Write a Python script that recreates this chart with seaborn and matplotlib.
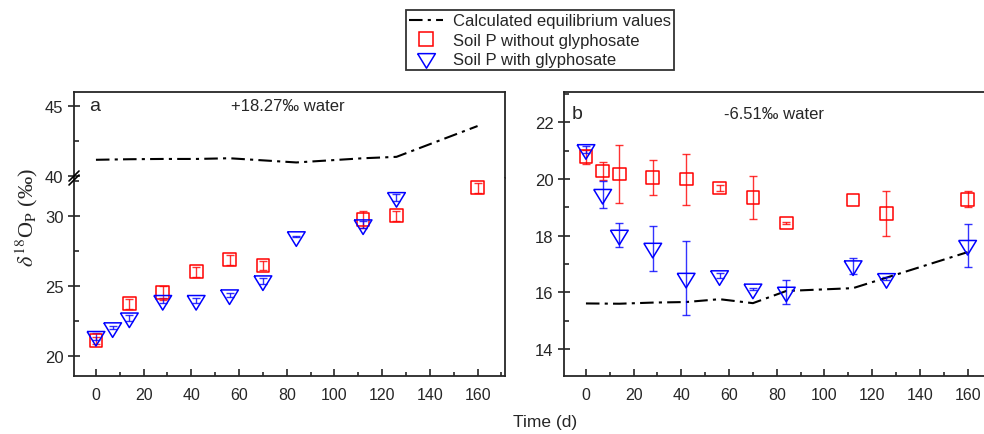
import matplotlib
matplotlib.use("Agg")
import matplotlib.pyplot as plt
from matplotlib.lines import Line2D
from matplotlib.ticker import MultipleLocator
import seaborn as sns
import numpy as np

# sampling days
days_calc = [0, 14, 28, 42, 56, 70, 84, 112, 126, 160]
days_a_red = [0, 14, 28, 42, 56, 70, 112, 126, 160]
days_a_blue = [0, 7, 14, 28, 42, 56, 70, 84, 112, 126]
days_b = [0, 7, 14, 28, 42, 56, 70, 84, 112, 126, 160]

# panel a: +18.27 permil water
a_calc = [41.14, 41.18, 41.2, 41.2, 41.25, 41.1, 40.95, 41.25, 41.35, 43.55]
a_red = [21.1, 23.7, 24.5, 26.0, 26.85, 26.45, 29.75, 30.0, 32.0]
a_red_err = [0.25, 0.35, 0.5, 0.35, 0.35, 0.3, 0.6, 0.35, 0.35]
a_blue = [21.38, 22.0, 22.7, 23.95, 23.95, 24.35, 25.35, 28.5, 29.35, 31.3]
a_blue_err = [0.25, 0.1, 0.2, 0.2, 0.2, 0.15, 0.2, 0.05, 0.25, 0.25]

# panel b: -6.51 permil water
b_calc = [15.61, 15.6, 15.64, 15.66, 15.76, 15.62, 16.05, 16.15, 16.52, 17.42]
b_red = [20.79, 20.28, 20.18, 20.06, 20.0, 19.68, 19.35, 18.45, 19.26, 18.78, 19.28]
b_red_err = [0.25, 0.33, 1.03, 0.62, 0.9, 0.1, 0.75, 0.05, np.nan, 0.8, 0.28]
b_blue = [21.04, 19.46, 18.02, 17.56, 16.5, 16.59, 16.12, 16.01, 16.94, 16.49, 17.66]
b_blue_err = [0.12, 0.48, 0.42, 0.79, 1.3, 0.08, 0.05, 0.42, 0.28, 0.05, 0.77]

labels = ["Calculated equilibrium values", "Soil P without glyphosate", "Soil P with glyphosate"]

sns.set_style("ticks")
plt.rcParams["font.family"] = ["Liberation Sans", "DejaVu Sans"]
plt.rcParams["mathtext.fontset"] = "stix"

RED = "#ff0000"
BLUE = "#0000ff"
DASH = (0, (6.5, 2.5, 1.5, 2.5))
# down triangle with its centroid on the data point
TRI = [(-1, 0.547), (1, 0.547), (0, -1.093), (-1, 0.547)]

W, H = 984, 435
fig = plt.figure(figsize=(W / 100, H / 100), dpi=100)

def box(l, t, r, b):
    return [l / W, 1 - b / H, (r - l) / W, (b - t) / H]

ax_at = fig.add_axes(box(74, 93, 505, 179))
ax_ab = fig.add_axes(box(74, 179, 505, 377))
ax_b = fig.add_axes(box(564, 93, 995, 377))


def points(ax, x, y, err, color, marker, s):
    ax.errorbar(x, y, yerr=err, fmt="none", ecolor=color, elinewidth=1,
                capsize=2.8, capthick=1, alpha=0.8, zorder=2)
    sns.scatterplot(x=x, y=y, ax=ax, marker=marker, s=s, color=color,
                    facecolor="none", edgecolor=color, linewidth=1.1,
                    legend=False, zorder=3)


def calc_line(ax, x, y):
    sns.lineplot(x=x, y=y, ax=ax, color="black", linewidth=1.5,
                 linestyle=DASH, legend=False, errorbar=None)


# panel a
calc_line(ax_at, days_calc, a_calc)
points(ax_ab, days_a_red, a_red, a_red_err, RED, "s", 85)
points(ax_ab, days_a_blue, a_blue, a_blue_err, BLUE, TRI, 195)

# panel b
calc_line(ax_b, days_calc, b_calc)
points(ax_b, days_b, b_red, b_red_err, RED, "s", 85)
points(ax_b, days_b, b_blue, b_blue_err, BLUE, TRI, 195)

for ax in (ax_at, ax_ab, ax_b):
    ax.set_xlim(-9.2, 171.5)
    ax.xaxis.set_major_locator(MultipleLocator(20))
    ax.xaxis.set_minor_locator(MultipleLocator(10))
    ax.set_xlabel("")
    ax.set_ylabel("")
    for sp in ax.spines.values():
        sp.set_linewidth(1.3)
        sp.set_visible(True)
    ax.tick_params(axis="y", which="major", direction="inout", length=8,
                   width=1.2, labelsize=12)
    ax.tick_params(axis="y", which="minor", direction="in", length=3.5, width=1.2)
    ax.tick_params(axis="x", which="major", direction="in", length=5, width=1.2,
                   pad=8, labelsize=11.5)
    ax.tick_params(axis="x", which="minor", direction="in", length=3, width=1.2)

ax_at.set_ylim(39.84, 45.98)
ax_at.yaxis.set_major_locator(MultipleLocator(5))
ax_at.yaxis.set_minor_locator(MultipleLocator(2.5))
ax_at.spines["bottom"].set_visible(False)
ax_at.tick_params(axis="x", which="both", bottom=False, labelbottom=False)

ax_ab.set_ylim(18.55, 32.69)
ax_ab.yaxis.set_major_locator(MultipleLocator(5))
ax_ab.yaxis.set_minor_locator(MultipleLocator(2.5))
ax_ab.spines["top"].set_visible(False)

ax_b.set_ylim(13.05, 23.07)
ax_b.yaxis.set_major_locator(MultipleLocator(2))
ax_b.yaxis.set_minor_locator(MultipleLocator(1))

# axis break marks on the left spine of panel a
for dy in (0, 4):
    fig.add_artist(Line2D([69 / W, 79 / W], [1 - (186 - dy) / H, 1 - (176 - dy) / H],
                          color="black", lw=1.2))

ax_at.text(0.049, 0.84, "a", transform=ax_at.transAxes, fontsize=14,
           ha="center", va="center")
ax_at.text(0.497, 0.84, "+18.27‰ water", transform=ax_at.transAxes,
           fontsize=12, ha="center", va="center")
ax_b.text(0.03, 0.925, "b", transform=ax_b.transAxes, fontsize=14,
          ha="center", va="center")
ax_b.text(0.487, 0.925, "-6.51‰ water", transform=ax_b.transAxes,
          fontsize=12, ha="center", va="center")

fig.text(27 / W, 1 - 217 / H, r"$\delta^{18}$O$_\mathrm{P}$ (‰)", rotation=90,
         ha="center", va="center", fontsize=16, family=["Liberation Serif", "DejaVu Serif"])
fig.text(545 / W, 1 - 423 / H, "Time (d)", ha="center", va="center", fontsize=12.5)

handles = [
    Line2D([], [], color="black", lw=1.5, linestyle=DASH),
    Line2D([], [], marker="s", ls="none", mfc="none", mec=RED, ms=9.5, mew=1.1),
    Line2D([], [], marker=TRI, ls="none", mfc="none", mec=BLUE, ms=14, mew=1.1),
]
leg = fig.legend(handles, labels, loc="upper center", bbox_to_anchor=(540 / W, 1 - 11 / H),
                 frameon=True, fancybox=False, edgecolor="black", fontsize=12,
                 handlelength=2.0, handletextpad=0.6, labelspacing=0.26,
                 borderpad=0.2, borderaxespad=0)
leg.get_frame().set_linewidth(1.3)

fig.savefig("out.png", dpi=100)
